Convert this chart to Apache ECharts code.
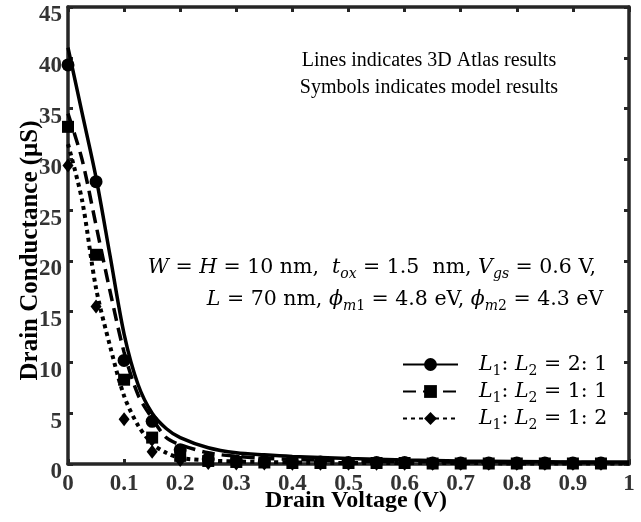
<!DOCTYPE html>
<html>
<head>
<meta charset="utf-8">
<script src="https://cdn.jsdelivr.net/npm/echarts@6/dist/echarts.min.js"></script>
<style>
  html, body { margin: 0; padding: 0; background: #fff; }
  #main { width: 641px; height: 522px; }
</style>
</head>
<body>
<div id="main"></div>
<script>
// x positions of the Atlas curves and of the model symbols
const lineX = [0, 0.025, 0.05, 0.075, 0.1, 0.125, 0.15, 0.175, 0.2, 0.25, 0.3, 0.35, 0.4, 0.5, 0.6, 0.7, 0.8, 0.9, 1.0];
const markX = [0, 0.05, 0.1, 0.15, 0.2, 0.25, 0.3, 0.35, 0.4, 0.45, 0.5, 0.55, 0.6, 0.65, 0.7, 0.75, 0.8, 0.85, 0.9, 0.95];

// 3D Atlas results (lines)
const atlas21 = [41, 34.6, 28.2, 20.5, 12.8, 7.8, 5.0, 3.5, 2.6, 1.6, 1.1, 0.9, 0.75, 0.55, 0.4, 0.3, 0.25, 0.2, 0.2];
const atlas11 = [34.5, 30, 23.5, 17, 11.0, 6.8, 4.5, 2.6, 1.9, 1.1, 0.75, 0.55, 0.45, 0.3, 0.25, 0.2, 0.15, 0.15, 0.1];
const atlas12 = [31.5, 26, 17.3, 11.6, 6.7, 3.8, 2.0, 1.1, 0.6, 0.35, 0.25, 0.2, 0.15, 0.1, 0.1, 0.1, 0.05, 0.05, 0.05];

// model results (symbols)
const model21 = [39.3, 27.8, 10.2, 4.2, 1.4, 0.5, 0.3, 0.25, 0.2, 0.2, 0.15, 0.15, 0.15, 0.1, 0.1, 0.1, 0.1, 0.1, 0.1, 0.1];
const model11 = [33.2, 20.6, 8.3, 2.6, 0.8, 0.3, 0.2, 0.15, 0.1, 0.1, 0.1, 0.1, 0.1, 0.05, 0.05, 0.05, 0.05, 0.05, 0.05, 0.05];
const model12 = [29.4, 15.5, 4.4, 1.2, 0.4, 0.1, 0.05, 0.05, 0.02, 0.02, 0.02, 0.02, 0.02, 0.02, 0.02, 0.02, 0.02, 0.02, 0.02, 0.02];

const names = ['L1:L2 = 2:1', 'L1:L2 = 1:1', 'L1:L2 = 1:2'];
const ratioText = ['2: 1', '1: 1', '1: 2'];

const pair = (xs, ys) => xs.map((x, i) => [x, ys[i]]);

const axisColor = '#262626';
const serif = 'Liberation Serif';
const mathFont = 'DejaVu Serif';

const mathRich = {
  i: { fontFamily: mathFont, fontStyle: 'italic', fontSize: 20.5, lineHeight: 27, color: '#000' },
  n: { fontFamily: mathFont, fontSize: 20.5, lineHeight: 27, color: '#000' },
  s: { fontFamily: mathFont, fontStyle: 'italic', fontSize: 14, lineHeight: 17, verticalAlign: 'bottom', color: '#000' },
  u: { fontFamily: mathFont, fontSize: 14, lineHeight: 17, verticalAlign: 'bottom', color: '#000' }
};

let myChart = echarts.init(document.getElementById('main'));

function atlasLine(i, data, type, symbol, symbolSize, width) {
  return {
    name: names[i],
    type: 'line',
    data: pair(lineX, data),
    smooth: 0.3,
    showSymbol: false,
    symbol: symbol,
    symbolSize: symbolSize,
    itemStyle: { color: '#000' },
    lineStyle: { color: '#000', width: width, type: type },
    emphasis: { disabled: true },
    z: 3
  };
}

function modelPoints(i, data, symbol, symbolSize) {
  return {
    name: names[i],
    type: 'scatter',
    data: pair(markX, data),
    symbol: symbol,
    symbolSize: symbolSize,
    itemStyle: { color: '#000', opacity: 1 },
    emphasis: { disabled: true },
    z: 4
  };
}

// box axes (top / right) only carry ticks
function boxAxis(extra) {
  return Object.assign({
    type: 'value',
    axisLine: { show: true, onZero: false, lineStyle: { color: axisColor, width: 3.5 } },
    axisTick: { show: true, inside: true, length: 5, lineStyle: { color: axisColor, width: 3 } },
    axisLabel: { show: false },
    splitLine: { show: false }
  }, extra);
}

myChart.setOption({
  animation: false,
  backgroundColor: '#fff',
  grid: { left: 68, right: 12, top: 7, bottom: 58, containLabel: false, outerBoundsMode: 'none' },
  legend: {
    orient: 'vertical',
    left: 397,
    top: 349,
    itemWidth: 55,
    itemHeight: 16,
    itemGap: 3,
    data: names,
    formatter: function (name) {
      const k = names.indexOf(name);
      return '{i|L}{u|1}{n|: }{i|L}{u|2}{n| = ' + ratioText[k] + '}';
    },
    textStyle: { padding: [0, 0, 0, 16], rich: mathRich }
  },
  xAxis: [{
    type: 'value',
    min: 0, max: 1, interval: 0.1,
    name: 'Drain Voltage (V)',
    nameLocation: 'middle',
    nameGap: 25,
    nameMoveOverlap: false,
    nameTextStyle: { fontFamily: serif, fontWeight: 'bold', fontSize: 24, color: '#000', padding: [0, 0, 0, 15] },
    axisLine: { show: true, onZero: false, lineStyle: { color: axisColor, width: 3.5 } },
    axisTick: { show: true, inside: true, length: 5, lineStyle: { color: axisColor, width: 3 } },
    axisLabel: { fontFamily: serif, fontWeight: 'bold', fontSize: 23, color: '#333', margin: 9 },
    splitLine: { show: false }
  }, boxAxis({ position: 'top', min: 0, max: 1, interval: 0.1 })],
  yAxis: [{
    type: 'value',
    min: 0, max: 45, interval: 5,
    name: 'Drain Conductance (μS)',
    nameLocation: 'middle',
    nameGap: 25,
    nameMoveOverlap: false,
    nameTextStyle: { fontFamily: serif, fontWeight: 'bold', fontSize: 25, color: '#000', padding: [0, 30, 0, 0] },
    axisLine: { show: true, onZero: false, lineStyle: { color: axisColor, width: 3.5 } },
    axisTick: { show: true, inside: true, length: 5, lineStyle: { color: axisColor, width: 3 } },
    axisLabel: { fontFamily: serif, fontWeight: 'bold', fontSize: 23, color: '#333', margin: 6, verticalAlign: 'top', lineHeight: 17 },
    splitLine: { show: false }
  }, boxAxis({ position: 'right', min: 0, max: 45, interval: 5 })],
  graphic: [
    {
      type: 'text', z: 10,
      style: {
        x: 429, y: 61, text: 'Lines indicates 3D Atlas results',
        fontFamily: serif, fontSize: 20, fill: '#000', align: 'center', verticalAlign: 'middle'
      }
    },
    {
      type: 'text', z: 10,
      style: {
        x: 429, y: 88, text: 'Symbols indicates model results',
        fontFamily: serif, fontSize: 20, fill: '#000', align: 'center', verticalAlign: 'middle'
      }
    },
    {
      type: 'text', z: 10,
      style: {
        x: 372, y: 268, align: 'center', verticalAlign: 'middle',
        text: '{i|W}{n| = }{i|H}{n| = 10 nm,  }{i|t}{s|ox}{n| = 1.5  nm, }{i|V}{s|gs}{n| = 0.6 V,}',
        rich: mathRich
      }
    },
    {
      type: 'text', z: 10,
      style: {
        x: 405, y: 300, align: 'center', verticalAlign: 'middle',
        text: '{i|L}{n| = 70 nm, }{i|ϕ}{s|m}{u|1}{n| = 4.8 eV, }{i|ϕ}{s|m}{u|2}{n| = 4.3 eV}',
        rich: mathRich
      }
    }
  ],
  series: [
    atlasLine(0, atlas21, 'solid', 'circle', 13, 3.5),
    atlasLine(1, atlas11, [13, 7], 'rect', 12, 3.5),
    atlasLine(2, atlas12, [4, 4], 'diamond', 12, 4),
    modelPoints(0, model21, 'circle', 13),
    modelPoints(1, model11, 'rect', 12),
    modelPoints(2, model12, 'diamond', [11, 14])
  ]
});
</script>
</body>
</html>
